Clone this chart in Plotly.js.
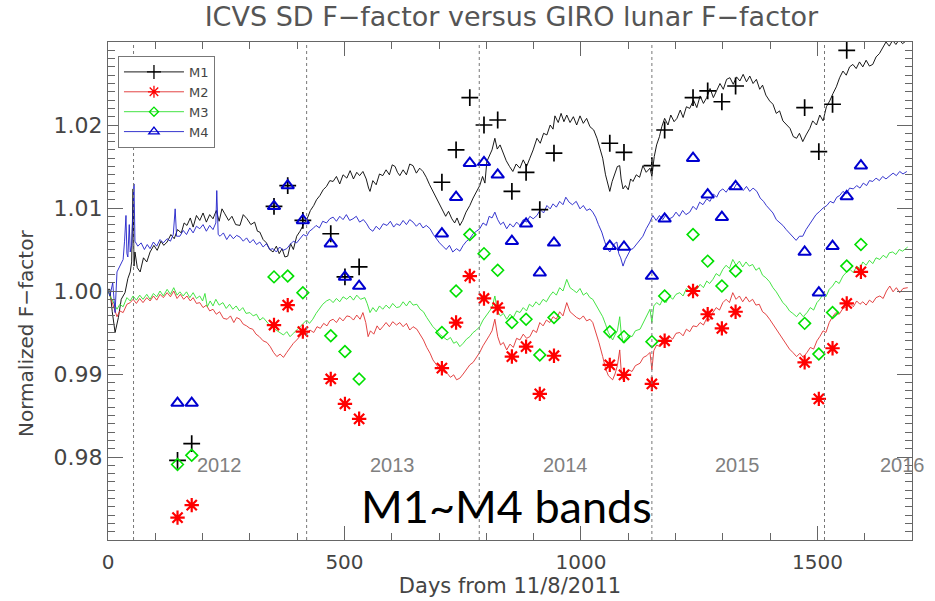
<!DOCTYPE html>
<html><head><meta charset="utf-8">
<script src="https://cdn.plot.ly/plotly-3.0.1.min.js"></script>
<style>body{margin:0;background:#fff}#chart{width:935px;height:601px}</style>
</head><body><div id="chart"></div>
<script>
// ---- data ----
const seriesNames = ['M1', 'M2', 'M3', 'M4'];

// ICVS SD F-factor time series: [day from 11/8/2011, normalized F-factor]
const m1Line = [[0,1.0002],[4,1.0002],[9,0.9975],[15,0.9950],[22,0.9968],[28,0.9990],[36,0.9998],[42,1.0015],[47,1.0023],[50,1.0035],[53,1.0123],[55,1.0030],[57,1.0047],[62,1.0028],[68,1.0023],[75,1.0040],[82,1.0035],[89,1.0047],[97,1.0055],[104,1.0049],[112,1.0060],[118,1.0055],[125,1.0059],[133,1.0068],[140,1.0063],[147,1.0074],[155,1.0070],[161,1.0082],[167,1.0079],[174,1.0088],[180,1.0077],[187,1.0091],[194,1.0085],[201,1.0094],[208,1.0083],[215,1.0092],[222,1.0087],[229,1.0097],[235,1.0084],[241,1.0099],[247,1.0093],[255,1.0085],[262,1.0090],[270,1.0080],[279,1.0079],[286,1.0092],[294,1.0087],[302,1.0080],[310,1.0083],[316,1.0072],[321,1.0071],[328,1.0062],[335,1.0058],[342,1.0050],[349,1.0047],[356,1.0054],[362,1.0045],[368,1.0051],[374,1.0041],[380,1.0042],[386,1.0057],[392,1.0050],[399,1.0066],[406,1.0072],[414,1.0081],[421,1.0087],[428,1.0097],[435,1.0103],[441,1.0110],[448,1.0115],[455,1.0122],[462,1.0126],[469,1.0133],[476,1.0132],[483,1.0138],[490,1.0129],[497,1.0140],[505,1.0136],[512,1.0145],[519,1.0135],[526,1.0143],[532,1.0139],[539,1.0144],[546,1.0135],[551,1.0124],[554,1.0120],[560,1.0133],[567,1.0128],[574,1.0141],[581,1.0139],[588,1.0146],[595,1.0140],[601,1.0152],[607,1.0150],[612,1.0143],[617,1.0139],[624,1.0146],[631,1.0140],[638,1.0153],[645,1.0151],[652,1.0142],[659,1.0148],[666,1.0144],[673,1.0137],[680,1.0128],[687,1.0120],[694,1.0111],[701,1.0103],[708,1.0095],[714,1.0090],[720,1.0096],[727,1.0087],[733,1.0082],[738,1.0088],[744,1.0079],[750,1.0085],[757,1.0095],[765,1.0103],[772,1.0112],[779,1.0120],[786,1.0127],[792,1.0138],[797,1.0130],[801,1.0156],[806,1.0162],[812,1.0170],[818,1.0184],[823,1.0171],[829,1.0176],[835,1.0168],[842,1.0157],[849,1.0150],[856,1.0144],[863,1.0153],[871,1.0148],[878,1.0158],[885,1.0150],[892,1.0160],[899,1.0170],[907,1.0184],[914,1.0178],[921,1.0190],[928,1.0188],[935,1.0200],[941,1.0195],[945,1.0211],[952,1.0203],[958,1.0214],[964,1.0204],[970,1.0212],[977,1.0203],[984,1.0210],[991,1.0200],[998,1.0211],[1005,1.0202],[1012,1.0208],[1019,1.0198],[1027,1.0194],[1034,1.0184],[1040,1.0172],[1046,1.0160],[1052,1.0140],[1057,1.0128],[1061,1.0120],[1066,1.0132],[1072,1.0142],[1077,1.0150],[1082,1.0151],[1085,1.0135],[1089,1.0123],[1094,1.0127],[1100,1.0122],[1105,1.0135],[1110,1.0132],[1117,1.0140],[1124,1.0137],[1131,1.0151],[1138,1.0143],[1146,1.0148],[1150,1.0138],[1155,1.0162],[1160,1.0176],[1166,1.0186],[1171,1.0198],[1177,1.0208],[1184,1.0200],[1190,1.0212],[1197,1.0204],[1203,1.0208],[1210,1.0218],[1216,1.0209],[1223,1.0222],[1230,1.0220],[1238,1.0230],[1245,1.0221],[1252,1.0235],[1259,1.0226],[1266,1.0233],[1273,1.0244],[1280,1.0233],[1287,1.0241],[1294,1.0250],[1301,1.0243],[1308,1.0255],[1315,1.0257],[1322,1.0249],[1329,1.0258],[1336,1.0253],[1343,1.0261],[1350,1.0252],[1357,1.0259],[1364,1.0250],[1371,1.0255],[1378,1.0243],[1384,1.0248],[1391,1.0236],[1399,1.0229],[1406,1.0225],[1413,1.0214],[1420,1.0217],[1427,1.0205],[1434,1.0201],[1442,1.0196],[1449,1.0186],[1456,1.0184],[1462,1.0190],[1469,1.0180],[1476,1.0188],[1484,1.0196],[1490,1.0205],[1498,1.0200],[1505,1.0212],[1512,1.0205],[1519,1.0222],[1526,1.0229],[1533,1.0238],[1540,1.0246],[1547,1.0257],[1554,1.0265],[1561,1.0260],[1568,1.0270],[1575,1.0273],[1582,1.0268],[1589,1.0276],[1596,1.0270],[1603,1.0278],[1610,1.0271],[1617,1.0273],[1624,1.0282],[1631,1.0286],[1638,1.0293],[1645,1.0300],[1652,1.0295],[1659,1.0302],[1666,1.0297],[1673,1.0303],[1680,1.0298],[1689,1.0302]];

const m2Line = [[0,1.0001],[4,0.9994],[10,0.9983],[19,0.9969],[25,0.9976],[32,0.9974],[40,0.9984],[47,0.9986],[53,0.9990],[60,0.9985],[67,0.9991],[74,0.9986],[82,0.9992],[89,0.9988],[96,0.9994],[103,0.9989],[110,0.9996],[117,0.9992],[125,0.9998],[132,0.9993],[139,1.0000],[146,0.9991],[153,0.9996],[160,0.9990],[167,0.9994],[174,0.9988],[180,0.9992],[187,0.9985],[194,0.9986],[201,0.9980],[208,0.9983],[215,0.9976],[222,0.9978],[229,0.9972],[236,0.9975],[244,0.9967],[252,0.9966],[259,0.9970],[266,0.9962],[272,0.9968],[279,0.9966],[286,0.9960],[293,0.9958],[300,0.9955],[306,0.9954],[313,0.9948],[320,0.9945],[328,0.9940],[336,0.9938],[343,0.9933],[350,0.9926],[357,0.9921],[364,0.9924],[371,0.9920],[378,0.9926],[385,0.9932],[392,0.9937],[399,0.9941],[406,0.9945],[413,0.9950],[420,0.9948],[427,0.9953],[435,0.9950],[442,0.9957],[449,0.9955],[456,0.9961],[463,0.9958],[469,0.9964],[476,0.9966],[483,0.9962],[490,0.9968],[497,0.9964],[505,0.9970],[512,0.9969],[519,0.9965],[526,0.9971],[533,0.9966],[539,0.9974],[545,0.9962],[550,0.9945],[555,0.9952],[562,0.9948],[569,0.9958],[575,0.9953],[581,0.9957],[588,0.9962],[595,0.9957],[602,0.9963],[610,0.9959],[617,0.9962],[624,0.9957],[631,0.9961],[638,0.9953],[645,0.9957],[653,0.9954],[660,0.9947],[667,0.9941],[674,0.9932],[681,0.9925],[687,0.9917],[694,0.9911],[701,0.9906],[708,0.9903],[717,0.9901],[724,0.9896],[731,0.9899],[737,0.9893],[744,0.9895],[751,0.9900],[758,0.9906],[765,0.9911],[772,0.9914],[779,0.9920],[786,0.9926],[793,0.9934],[800,0.9940],[806,0.9946],[812,0.9952],[818,0.9966],[824,0.9945],[830,0.9935],[836,0.9938],[843,0.9929],[850,0.9936],[857,0.9932],[864,0.9943],[871,0.9941],[878,0.9948],[885,0.9943],[892,0.9945],[899,0.9953],[906,0.9950],[913,0.9962],[920,0.9958],[927,0.9965],[934,0.9962],[941,0.9969],[948,0.9966],[955,0.9975],[962,0.9970],[970,0.9986],[977,0.9975],[984,0.9971],[991,0.9968],[998,0.9966],[1005,0.9970],[1012,0.9964],[1019,0.9966],[1025,0.9962],[1031,0.9952],[1038,0.9938],[1046,0.9921],[1052,0.9907],[1058,0.9898],[1063,0.9895],[1067,0.9893],[1072,0.9900],[1077,0.9910],[1082,0.9929],[1085,0.9905],[1089,0.9893],[1095,0.9900],[1101,0.9905],[1108,0.9903],[1115,0.9910],[1125,0.9913],[1132,0.9920],[1139,0.9922],[1146,0.9926],[1150,0.9905],[1154,0.9928],[1160,0.9935],[1167,0.9933],[1173,0.9941],[1180,0.9937],[1187,0.9945],[1194,0.9942],[1201,0.9949],[1209,0.9950],[1216,0.9946],[1223,0.9954],[1230,0.9951],[1237,0.9958],[1245,0.9957],[1252,0.9962],[1259,0.9959],[1266,0.9967],[1272,0.9965],[1279,0.9974],[1286,0.9980],[1293,0.9977],[1300,0.9986],[1307,0.9990],[1314,0.9986],[1321,0.9998],[1328,0.9990],[1335,0.9994],[1342,0.9987],[1349,0.9993],[1356,0.9987],[1363,0.9990],[1370,0.9983],[1377,0.9984],[1384,0.9975],[1391,0.9972],[1399,0.9966],[1406,0.9960],[1413,0.9953],[1420,0.9948],[1427,0.9941],[1434,0.9936],[1441,0.9930],[1448,0.9926],[1456,0.9921],[1463,0.9925],[1470,0.9920],[1478,0.9926],[1485,0.9932],[1492,0.9930],[1499,0.9940],[1505,0.9945],[1512,0.9952],[1518,0.9950],[1525,0.9962],[1532,0.9969],[1539,0.9974],[1546,0.9972],[1554,0.9979],[1562,0.9981],[1569,0.9985],[1576,0.9981],[1583,0.9988],[1590,0.9984],[1596,0.9987],[1603,0.9983],[1610,0.9989],[1617,0.9986],[1624,0.9992],[1632,0.9994],[1639,0.9991],[1646,1.0000],[1653,1.0006],[1660,0.9999],[1667,1.0004],[1674,0.9998],[1681,1.0003],[1691,1.0004]];

const m3Line = [[0,1.0001],[4,0.9994],[10,0.9988],[19,0.9978],[25,0.9984],[32,0.9981],[40,0.9992],[47,0.9988],[53,0.9994],[60,0.9989],[67,0.9995],[74,0.9990],[82,0.9996],[89,0.9990],[96,0.9997],[103,0.9993],[110,1.0000],[117,0.9994],[125,1.0002],[132,0.9996],[139,1.0004],[146,0.9995],[152,0.9999],[159,0.9994],[166,0.9999],[173,0.9992],[180,0.9998],[187,0.9991],[194,0.9994],[200,0.9988],[205,0.9997],[210,0.9981],[216,0.9988],[222,0.9982],[228,0.9990],[235,0.9983],[243,0.9986],[250,0.9979],[257,0.9984],[264,0.9978],[271,0.9982],[278,0.9976],[285,0.9980],[292,0.9973],[300,0.9974],[307,0.9970],[314,0.9972],[321,0.9965],[328,0.9968],[336,0.9963],[343,0.9958],[350,0.9955],[357,0.9952],[364,0.9950],[371,0.9947],[378,0.9951],[385,0.9945],[392,0.9949],[399,0.9953],[406,0.9957],[413,0.9961],[420,0.9965],[426,0.9961],[433,0.9966],[440,0.9973],[447,0.9978],[454,0.9984],[462,0.9988],[469,0.9990],[476,0.9986],[483,0.9991],[490,0.9987],[497,0.9993],[505,0.9990],[512,0.9994],[519,0.9989],[526,0.9995],[534,0.9990],[543,0.9992],[548,0.9985],[554,0.9974],[560,0.9980],[567,0.9975],[574,0.9982],[581,0.9978],[588,0.9983],[595,0.9979],[602,0.9985],[610,0.9980],[617,0.9981],[624,0.9987],[631,0.9982],[638,0.9988],[645,0.9983],[653,0.9984],[660,0.9978],[667,0.9975],[674,0.9968],[681,0.9962],[687,0.9957],[694,0.9953],[701,0.9948],[708,0.9945],[717,0.9941],[724,0.9944],[731,0.9937],[737,0.9939],[744,0.9933],[751,0.9937],[758,0.9942],[765,0.9945],[772,0.9950],[779,0.9953],[786,0.9957],[793,0.9965],[800,0.9970],[806,0.9975],[812,0.9980],[818,0.9994],[824,0.9975],[830,0.9970],[836,0.9973],[843,0.9966],[850,0.9972],[857,0.9968],[864,0.9976],[871,0.9974],[878,0.9980],[885,0.9976],[891,0.9984],[898,0.9981],[905,0.9987],[912,0.9983],[920,0.9990],[927,0.9987],[934,0.9994],[941,0.9999],[948,0.9995],[955,1.0004],[962,1.0000],[970,1.0014],[977,1.0004],[984,1.0001],[991,0.9998],[998,1.0003],[1005,0.9995],[1012,0.9998],[1019,0.9992],[1025,0.9990],[1031,0.9984],[1038,0.9977],[1046,0.9969],[1052,0.9960],[1058,0.9950],[1063,0.9945],[1067,0.9941],[1072,0.9947],[1077,0.9952],[1082,0.9969],[1085,0.9950],[1089,0.9938],[1095,0.9943],[1101,0.9947],[1108,0.9945],[1115,0.9952],[1125,0.9954],[1132,0.9962],[1139,0.9970],[1146,0.9978],[1150,0.9962],[1154,0.9982],[1160,0.9986],[1167,0.9983],[1173,0.9990],[1180,0.9986],[1187,0.9994],[1194,0.9990],[1201,0.9996],[1209,0.9998],[1216,0.9994],[1223,1.0003],[1230,0.9999],[1237,1.0005],[1245,1.0002],[1252,1.0008],[1259,1.0004],[1266,1.0012],[1272,1.0009],[1279,1.0014],[1286,1.0021],[1293,1.0018],[1300,1.0026],[1307,1.0031],[1314,1.0027],[1321,1.0038],[1328,1.0031],[1335,1.0036],[1342,1.0029],[1349,1.0035],[1356,1.0030],[1363,1.0032],[1370,1.0025],[1377,1.0028],[1384,1.0019],[1391,1.0016],[1399,1.0011],[1406,1.0004],[1413,0.9999],[1420,0.9993],[1427,0.9986],[1434,0.9982],[1441,0.9976],[1448,0.9973],[1456,0.9969],[1463,0.9974],[1470,0.9969],[1478,0.9974],[1485,0.9980],[1492,0.9977],[1499,0.9986],[1505,0.9990],[1512,0.9996],[1518,0.9993],[1525,1.0002],[1532,1.0006],[1539,1.0012],[1546,1.0009],[1554,1.0018],[1562,1.0023],[1569,1.0026],[1576,1.0022],[1583,1.0030],[1590,1.0027],[1596,1.0035],[1603,1.0031],[1610,1.0037],[1617,1.0033],[1624,1.0040],[1632,1.0038],[1639,1.0043],[1646,1.0040],[1652,1.0046],[1659,1.0047],[1666,1.0044],[1673,1.0050],[1680,1.0048],[1691,1.0053]];

const m4Line = [[0,1.0001],[4,0.9994],[10,1.0010],[15,0.9974],[19,1.0023],[25,1.0030],[32,1.0038],[35,1.0060],[38,1.0091],[40,1.0045],[42,1.0041],[45,1.0080],[47,1.0047],[50,1.0055],[53,1.0091],[55,1.0129],[57,1.0060],[63,1.0054],[70,1.0058],[77,1.0050],[83,1.0056],[89,1.0051],[96,1.0059],[103,1.0054],[110,1.0062],[117,1.0058],[125,1.0063],[132,1.0060],[138,1.0068],[142,1.0099],[145,1.0066],[152,1.0066],[159,1.0073],[166,1.0068],[173,1.0076],[180,1.0070],[187,1.0078],[194,1.0075],[201,1.0080],[208,1.0072],[215,1.0079],[222,1.0074],[228,1.0082],[230,1.0121],[233,1.0068],[237,1.0066],[244,1.0070],[251,1.0062],[258,1.0068],[265,1.0063],[272,1.0067],[279,1.0065],[286,1.0060],[293,1.0064],[300,1.0058],[307,1.0062],[314,1.0056],[321,1.0059],[328,1.0053],[335,1.0057],[342,1.0050],[349,1.0051],[356,1.0047],[363,1.0053],[370,1.0049],[378,1.0051],[385,1.0056],[392,1.0060],[399,1.0058],[406,1.0063],[413,1.0068],[420,1.0066],[426,1.0072],[433,1.0075],[440,1.0079],[447,1.0076],[454,1.0084],[462,1.0082],[469,1.0087],[476,1.0089],[483,1.0084],[490,1.0090],[497,1.0086],[504,1.0092],[511,1.0085],[518,1.0087],[525,1.0090],[532,1.0083],[540,1.0086],[547,1.0081],[553,1.0075],[560,1.0072],[567,1.0078],[574,1.0074],[582,1.0081],[590,1.0079],[597,1.0084],[604,1.0077],[610,1.0081],[617,1.0079],[624,1.0085],[631,1.0080],[638,1.0086],[645,1.0083],[652,1.0078],[659,1.0082],[666,1.0076],[673,1.0079],[681,1.0075],[688,1.0068],[694,1.0063],[701,1.0058],[708,1.0054],[715,1.0050],[722,1.0055],[729,1.0047],[737,1.0051],[744,1.0048],[751,1.0055],[758,1.0060],[765,1.0063],[772,1.0069],[779,1.0072],[786,1.0075],[793,1.0082],[800,1.0079],[806,1.0090],[812,1.0088],[818,1.0095],[824,1.0086],[830,1.0080],[836,1.0083],[843,1.0075],[850,1.0081],[857,1.0077],[864,1.0083],[871,1.0079],[878,1.0086],[885,1.0083],[892,1.0090],[899,1.0087],[907,1.0091],[914,1.0098],[921,1.0094],[928,1.0103],[935,1.0099],[941,1.0105],[948,1.0101],[955,1.0108],[962,1.0104],[968,1.0113],[975,1.0107],[982,1.0104],[990,1.0108],[998,1.0099],[1005,1.0103],[1012,1.0097],[1019,1.0099],[1025,1.0095],[1031,1.0089],[1037,1.0080],[1044,1.0071],[1050,1.0060],[1055,1.0052],[1061,1.0047],[1066,1.0052],[1071,1.0057],[1076,1.0059],[1080,1.0045],[1084,1.0040],[1089,1.0030],[1094,1.0038],[1100,1.0045],[1105,1.0050],[1110,1.0051],[1117,1.0056],[1124,1.0061],[1131,1.0066],[1138,1.0075],[1145,1.0082],[1152,1.0091],[1159,1.0085],[1166,1.0091],[1173,1.0086],[1180,1.0092],[1187,1.0087],[1194,1.0089],[1201,1.0095],[1208,1.0090],[1215,1.0097],[1222,1.0092],[1230,1.0095],[1237,1.0102],[1244,1.0098],[1251,1.0107],[1258,1.0104],[1266,1.0111],[1273,1.0108],[1280,1.0117],[1287,1.0113],[1293,1.0120],[1300,1.0123],[1307,1.0119],[1315,1.0126],[1322,1.0122],[1329,1.0129],[1336,1.0127],[1343,1.0121],[1350,1.0126],[1357,1.0120],[1364,1.0124],[1372,1.0120],[1379,1.0112],[1386,1.0108],[1392,1.0103],[1399,1.0099],[1406,1.0094],[1413,1.0086],[1420,1.0083],[1427,1.0079],[1434,1.0074],[1441,1.0070],[1448,1.0066],[1455,1.0061],[1462,1.0066],[1469,1.0066],[1476,1.0074],[1483,1.0080],[1490,1.0087],[1497,1.0092],[1505,1.0096],[1512,1.0100],[1520,1.0103],[1527,1.0108],[1534,1.0106],[1541,1.0113],[1547,1.0115],[1554,1.0120],[1561,1.0117],[1568,1.0124],[1576,1.0123],[1583,1.0127],[1590,1.0124],[1597,1.0130],[1604,1.0127],[1610,1.0133],[1617,1.0132],[1624,1.0136],[1631,1.0133],[1638,1.0138],[1645,1.0135],[1653,1.0139],[1660,1.0142],[1667,1.0139],[1674,1.0144],[1681,1.0141],[1689,1.0144]];

// GIRO lunar F-factor points
const lunarDays = [147,177,351,380,412,471,501,531,706,736,765,795,824,854,884,913,943,1061,1091,1150,1177,1237,1268,1298,1327,1473,1503,1532,1562,1592];
const m1Lunar = [0.9796,0.9816,1.0102,1.0127,1.0085,1.0069,1.0017,1.0029,1.0131,1.0170,1.0233,1.0200,1.0206,1.0120,1.0143,1.0098,1.0166,1.0178,1.0167,1.0151,1.0194,1.0233,1.0241,1.0228,1.0247,1.0221,1.0168,1.0225,1.0290,null];
const m2Lunar = [0.9727,0.9742,0.9959,0.9983,0.9951,0.9894,0.9864,0.9846,0.9907,0.9962,1.0018,0.9991,0.9980,0.9921,0.9933,0.9876,0.9922,0.9911,0.9899,0.9888,0.9940,1.0000,0.9972,0.9955,0.9975,0.9914,0.9870,0.9931,0.9985,1.0023];
const m3Lunar = [0.9791,0.9802,1.0017,1.0018,0.9998,0.9946,0.9927,0.9894,0.9950,1.0000,1.0068,1.0045,1.0025,0.9962,0.9966,0.9923,0.9968,0.9951,0.9945,0.9939,0.9994,1.0068,1.0036,1.0006,1.0024,0.9961,0.9924,0.9974,1.0030,1.0056];
const m4Lunar = [0.9865,0.9865,1.0102,1.0127,1.0085,1.0057,1.0017,1.0006,1.0069,1.0113,1.0154,1.0155,1.0140,1.0060,1.0081,1.0022,1.0058,1.0054,1.0053,1.0018,1.0087,1.0160,1.0116,1.0089,1.0126,1.0047,0.9998,1.0054,1.0114,1.0151];

// year boundaries (Jan 1) and year labels
const yearStartDays = [54, 420, 785, 1150, 1515];
const yearLabels = ['2012', '2013', '2014', '2015', '2016'];
const yearLabelDays = [236, 602, 967, 1332, 1680];
const yearLabelLevel = 0.979;
const yTickValues = [0.98, 0.99, 1.00, 1.01, 1.02];
const xTickValues = [0, 500, 1000, 1500];

// ---- styles ----
const lineColors = ['#000000', '#e03030', '#30e030', '#2020c8'];
const markerColors = ['#000000', '#ff0000', '#00e000', '#0000d0'];
const markerSymbols = ['cross-thin-open', 'asterisk-open', 'diamond-open', 'triangle-up-open'];
const markerSizes = [12, 12, 9, 11];
const markerWidths = [1.7, 2.2, 1.6, 2];

const lines = [m1Line, m2Line, m3Line, m4Line];
const lunarVals = [m1Lunar, m2Lunar, m3Lunar, m4Lunar];

const traces = [];
for (let i = 0; i < 4; i++) {
  traces.push({type: 'scatter', mode: 'lines', x: lines[i].map(p => p[0]), y: lines[i].map(p => p[1]),
    line: {color: lineColors[i], width: 0.9}, showlegend: false, hoverinfo: 'skip'});
}
for (let i = 0; i < 4; i++) {
  traces.push({type: 'scatter', mode: 'markers', x: lunarDays, y: lunarVals[i],
    marker: {symbol: markerSymbols[i], size: markerSizes[i], color: markerColors[i],
      line: {color: markerColors[i], width: markerWidths[i]}}, showlegend: false});
}
// legend entries
for (let i = 0; i < 4; i++) {
  traces.push({type: 'scatter', mode: 'lines+markers', x: [null], y: [null], name: seriesNames[i],
    line: {color: lineColors[i], width: 0.9},
    marker: {symbol: markerSymbols[i], size: markerSizes[i] - 2, color: markerColors[i],
      line: {color: markerColors[i], width: 1.3}}});
}

const axisColor = '#666';
const yTickFont = {family: 'DejaVu Sans', size: 22, color: '#444'};
const xTickFont = {family: 'DejaVu Sans', size: 20, color: '#444'};

const shapes = yearStartDays.map(d => ({type: 'line', xref: 'x', yref: 'paper', x0: d, x1: d, y0: 0, y1: 1,
  line: {color: '#777', width: 1, dash: 'dot'}}));

const annotations = yearLabels.map((t, i) => ({xref: 'x', yref: 'y', x: yearLabelDays[i], y: yearLabelLevel,
  xanchor: 'center', yanchor: 'middle',
  text: t, showarrow: false, font: {family: 'Liberation Sans', size: 20, color: '#808080'}}));
annotations.push({xref: 'paper', yref: 'paper', x: 0.496, y: 0.068, xanchor: 'center', yanchor: 'middle',
  text: 'M1~M4 bands', showarrow: false, font: {family: 'Lato', size: 45, color: '#000'}});
annotations.push({xref: 'paper', yref: 'paper', x: -0.102, y: 0.4157, xanchor: 'center', yanchor: 'middle',
  textangle: -90, text: 'Normalized F\u2212factor', showarrow: false,
  font: {family: 'DejaVu Sans', size: 20, color: '#444'}});

const layout = {
  width: 935, height: 601,
  margin: {l: 108, r: 23, t: 42, b: 61},
  paper_bgcolor: '#fff', plot_bgcolor: '#fff',
  title: {text: 'ICVS SD F\u2212factor versus GIRO lunar F\u2212factor', x: 0.547, xanchor: 'center',
    y: 0.972, yanchor: 'middle', font: {family: 'DejaVu Sans', size: 27, color: '#555'}},
  xaxis: {range: [0, 1700], tickvals: xTickValues, ticks: 'inside', ticklen: 14, tickwidth: 1,
    tickcolor: axisColor, showline: true, linecolor: axisColor, linewidth: 1, mirror: 'ticks',
    showgrid: false, zeroline: false, tickfont: xTickFont, ticklabelstandoff: 4,
    minor: {dtick: 100, ticks: 'inside', ticklen: 7, tickcolor: axisColor, showgrid: false},
    title: {text: 'Days from 11/8/2011', font: {family: 'DejaVu Sans', size: 21, color: '#444'}, standoff: 4}},
  yaxis: {range: [0.97, 1.03], tickvals: yTickValues, tickformat: '.2f', ticks: 'inside', ticklen: 15, tickwidth: 1,
    tickcolor: axisColor, showline: true, linecolor: axisColor, linewidth: 1, mirror: 'ticks',
    showgrid: false, zeroline: false, tickfont: yTickFont,
    minor: {dtick: 0.001, tick0: 0.97, ticks: 'inside', ticklen: 7, tickcolor: axisColor, showgrid: false}},
  showlegend: true,
  legend: {x: 0.0124, y: 0.972, xanchor: 'left', yanchor: 'top', bgcolor: '#fff', bordercolor: '#777', borderwidth: 1,
    font: {family: 'DejaVu Sans', size: 13, color: '#444'}, tracegroupgap: 0, itemwidth: 60},
  shapes: shapes,
  annotations: annotations
};

Plotly.newPlot('chart', traces, layout, {displayModeBar: false, staticPlot: true});
</script>
</body></html>
